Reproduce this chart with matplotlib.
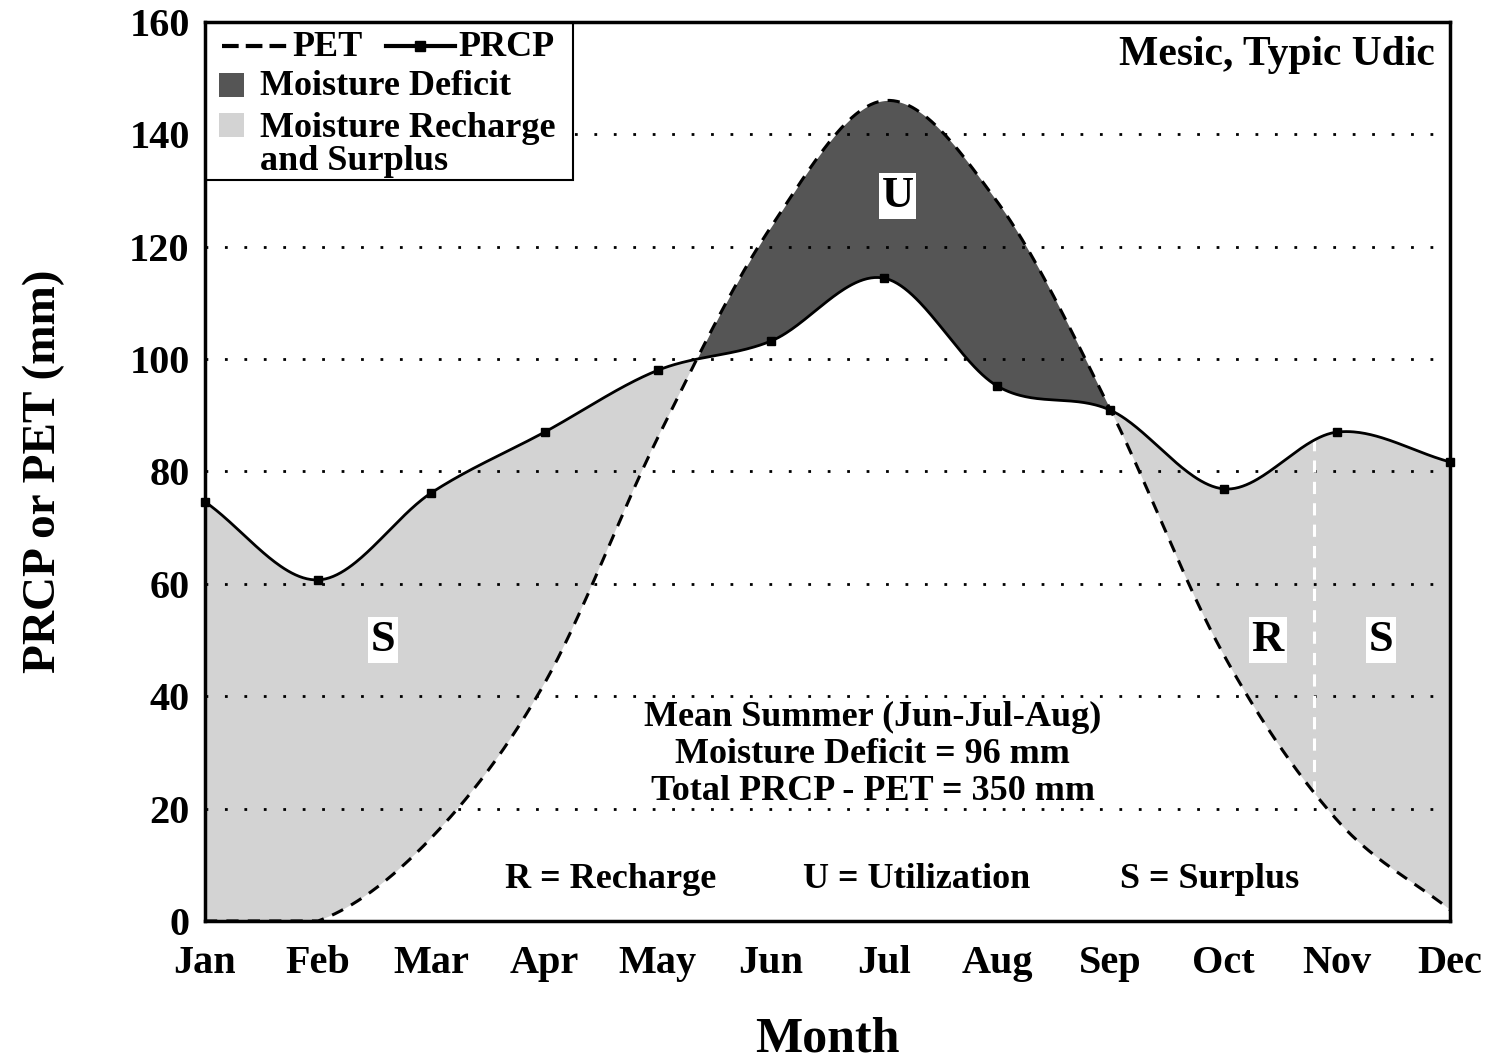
import matplotlib
matplotlib.use("Agg")
import matplotlib.pyplot as plt
from matplotlib.patches import Rectangle
import numpy as np

# ---------------------------------------------------------------------------- #
#                                  Monthly data                                #
# ---------------------------------------------------------------------------- #

months = ['Jan', 'Feb', 'Mar', 'Apr', 'May', 'Jun',
		  'Jul', 'Aug', 'Sep', 'Oct', 'Nov', 'Dec']
prcp = [74.6, 60.7, 76.2, 87.0, 98.0, 103.2, 114.4, 95.2, 90.9, 76.9, 87.0, 81.7]	# mm
pet = [0.0, 0.0, 14.8, 42.3, 86.0, 123.5, 146.0, 128.0, 91.0, 47.4, 18.0, 2.0]		# mm

recharge_end = 9.8										# End of recharge (month index)

region_labels = ['S', 'U', 'R', 'S']
region_x = [1.57, 6.12, 9.39, 10.39]
region_y = [50, 129, 50, 50]

summary = ['Mean Summer (Jun-Jul-Aug)',
		   'Moisture Deficit = 96 mm',
		   'Total PRCP - PET = 350 mm']
keys = ['R = Recharge', 'U = Utilization', 'S = Surplus']

FONT = ['Liberation Serif', 'DejaVu Serif']
plt.rcParams['font.family'] = FONT
plt.rcParams['font.weight'] = 'bold'
plt.rcParams['axes.labelweight'] = 'bold'

LIGHT = '#d3d3d3'
DARK = '#555555'


def catmull_rom(y, n=60):
	"""Smooth curve through monthly values (cubic Hermite, Catmull-Rom tangents)."""
	y = np.asarray(y, float)
	m = np.gradient(y)									# central tangents, one-sided at ends
	xs, ys = [], []
	for i in range(len(y) - 1):
		t = np.linspace(0, 1, n, endpoint=False)
		h00 = 2*t**3 - 3*t**2 + 1
		h10 = t**3 - 2*t**2 + t
		h01 = -2*t**3 + 3*t**2
		h11 = t**3 - t**2
		xs.append(i + t)
		ys.append(h00*y[i] + h10*m[i] + h01*y[i+1] + h11*m[i+1])
	xs.append([len(y) - 1])
	ys.append([y[-1]])
	return np.concatenate(xs), np.concatenate(ys)


# ---------------------------------------------------------------------------- #
#                                     Figure                                   #
# ---------------------------------------------------------------------------- #

fig = plt.figure(figsize=(14.93, 10.61), dpi=100)
ax = fig.add_axes([0.1373, 0.1320, 0.8339, 0.8473])

xm = np.arange(len(months))
xs, ps = catmull_rom(prcp)
_, es = catmull_rom(pet)
es = np.clip(es, 0, None)								# no negative PET

# Water balance areas
ax.fill_between(xs, es, ps, where=ps >= es, interpolate=True,
				color=LIGHT, lw=0, zorder=1)
ax.fill_between(xs, es, ps, where=es >= ps, interpolate=True,
				color=DARK, lw=0, zorder=1)

# Grid
for g in range(20, 160, 20):
	ax.axhline(g, color='black', lw=2, ls=(0, (1, 6)), zorder=2)

# Recharge / surplus split
k = np.argmin(np.abs(xs - recharge_end))
ax.plot([xs[k], xs[k]], [es[k], ps[k]], color='white', lw=2.2,
		ls=(0, (4, 3)), zorder=3)

# Curves
ax.plot(xs, es, color='black', lw=2.2, ls=(0, (4, 3)), zorder=4)
ax.plot(xs, ps, color='black', lw=2, zorder=4)
ax.plot(xm, prcp, ls='none', marker='s', ms=6, color='black', zorder=5, clip_on=False)

# Region letters
for lab, rx, ry in zip(region_labels, region_x, region_y):
	ax.text(rx, ry, lab, fontsize=32, ha='center', va='center', zorder=6,
			bbox=dict(facecolor='white', edgecolor='none', pad=2))

# Summary text
for s, yy in zip(summary, [36.3, 29.7, 23.0]):
	ax.text(5.90, yy, s, fontsize=26, ha='center', va='center', zorder=6)
for s, kx in zip(keys, [3.58, 6.29, 8.88]):
	ax.text(kx, 7.3, s, fontsize=26, ha='center', va='center', zorder=6)

ax.text(0.988, 0.952, 'Mesic, Typic Udic', fontsize=30, ha='right',
		va='baseline', transform=ax.transAxes, zorder=6)

# ---------------------------------------------------------------------------- #
#                                     Legend                                   #
# ---------------------------------------------------------------------------- #

T = ax.transAxes
ax.add_patch(Rectangle((0, 0.8242), 0.2956, 0.1758, transform=T, facecolor='white',
					   edgecolor='black', lw=1.5, zorder=7))
ax.plot([0.0137, 0.0659], [0.9733, 0.9733], transform=T, color='black', lw=3,
		ls=(0, (4, 1.7)), zorder=8)
ax.text(0.0699, 0.9622, 'PET', transform=T, fontsize=26, va='baseline', zorder=8)
ax.plot([0.1454, 0.2008], [0.9733, 0.9733], transform=T, color='black', lw=3, zorder=8)
ax.plot([0.1727], [0.9733], transform=T, marker='s', ms=7, color='black', zorder=8)
ax.text(0.2032, 0.9622, 'PRCP', transform=T, fontsize=26, va='baseline', zorder=8)

ax.add_patch(Rectangle((0.0112, 0.9166), 0.0201, 0.0267, transform=T,
					   facecolor=DARK, edgecolor='none', zorder=8))
ax.text(0.0442, 0.9188, 'Moisture Deficit', transform=T, fontsize=26,
		va='baseline', zorder=8)
ax.add_patch(Rectangle((0.0112, 0.8721), 0.0201, 0.0267, transform=T,
					   facecolor=LIGHT, edgecolor='none', zorder=8))
ax.text(0.0442, 0.8721, 'Moisture Recharge', transform=T, fontsize=26,
		va='baseline', zorder=8)
ax.text(0.0442, 0.8354, 'and Surplus', transform=T, fontsize=26,
		va='baseline', zorder=8)

# ---------------------------------------------------------------------------- #
#                                     Axes                                     #
# ---------------------------------------------------------------------------- #

ax.set_xlim(0, 11)
ax.set_ylim(0, 160)
ax.set_xticks(xm)
ax.set_xticklabels(months)
ax.set_yticks(np.arange(0, 161, 20))
ax.tick_params(axis='both', length=0, labelsize=29)
ax.tick_params(axis='x', pad=17)
ax.tick_params(axis='y', pad=11)
for sp in ax.spines.values():
	sp.set_linewidth(2.5)
	sp.set_zorder(9)

ax.set_xlabel('Month', fontsize=36, labelpad=25)
ax.set_ylabel('PRCP or PET (mm)', fontsize=34, labelpad=46)

fig.savefig('out.png', dpi=100)
